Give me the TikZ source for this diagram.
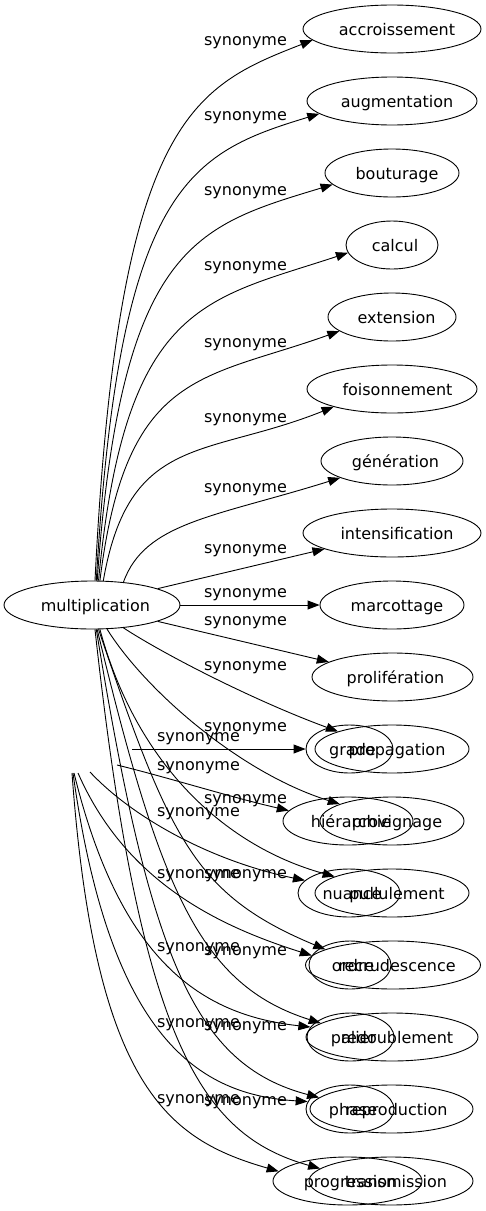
\documentclass[tikz,border=0pt]{standalone}
\usepackage{fontspec}
\setmainfont{DejaVu Sans}
\usetikzlibrary{shapes.geometric,arrows.meta}
\newcommand\shtxt[2]{\makebox[0pt]{\hspace*{#1}#2}}
\begin{document}
\begin{tikzpicture}[x=1pt,y=-1pt,
  every node/.style={font=\fontsize{16}{19}\selectfont},
  nd/.style={draw, ellipse, line width=0.9pt, minimum height=48pt, inner sep=0pt, text height=12pt, text depth=0pt},
  syn/.style={anchor=base, inner sep=0pt},
  edge/.style={line width=0.9pt, -{Triangle[length=12pt,width=9pt]}},
]
\useasboundingbox (0,0) rectangle (486,1211);
% main graph nodes
\node[nd, minimum width=176pt] (m) at (92,605) {\shtxt{7pt}{multiplication}};
\node[nd, minimum width=178pt] (acc) at (392,29) {\shtxt{10pt}{accroissement}};
\node[nd, minimum width=170pt] (aug) at (392,101) {\shtxt{10pt}{augmentation}};
\node[nd, minimum width=134pt] (bout) at (392,173) {\shtxt{10pt}{bouturage}};
\node[nd, minimum width=92pt] (calc) at (392,245) {\shtxt{6pt}{calcul}};
\node[nd, minimum width=128pt] (ext) at (392,317) {\shtxt{9pt}{extension}};
\node[nd, minimum width=170pt] (fois) at (392,389) {\shtxt{11pt}{foisonnement}};
\node[nd, minimum width=142pt] (gen) at (392,461) {\shtxt{7pt}{génération}};
\node[nd, minimum width=178pt] (int) at (392,533) {\shtxt{10pt}{intensification}};
\node[nd, minimum width=144pt] (marc) at (392,605) {\shtxt{10pt}{marcottage}};
\node[nd, minimum width=161pt] (prol) at (392.5,677) {\shtxt{6pt}{prolifération}};
\node[nd, minimum width=154pt] (prop) at (392,749) {\shtxt{10pt}{propagation}};
\node[nd, minimum width=144pt] (prov) at (392,821) {\shtxt{10pt}{provignage}};
\node[nd, minimum width=154pt] (pull) at (392,893) {\shtxt{10pt}{pullulement}};
\node[nd, minimum width=175pt] (recr) at (393,965) {\shtxt{8pt}{recrudescence}};
\node[nd, minimum width=172pt] (redoub) at (392,1037) {\shtxt{10pt}{redoublement}};
\node[nd, minimum width=163pt] (repro) at (391.5,1109) {\shtxt{10pt}{reproduction}};
\node[nd, minimum width=164pt] (trans) at (391,1181) {\shtxt{10pt}{transmission}};
% second graph nodes
\node[nd, minimum width=87pt] (grade) at (349.5,749) {\shtxt{6pt}{grade}};
\node[nd, minimum width=130pt] (hier) at (348,821) {\shtxt{6pt}{hiérarchie}};
\node[nd, minimum width=102pt] (nuance) at (349,893) {\shtxt{6pt}{nuance}};
\node[nd, minimum width=82pt] (ordre) at (350,965) {\shtxt{6pt}{ordre}};
\node[nd, minimum width=87pt] (palier) at (350.5,1037) {\shtxt{6pt}{palier}};
\node[nd, minimum width=88pt] (phase) at (350,1109) {\shtxt{6pt}{phase}};
\node[nd, minimum width=149pt] (prog) at (347.5,1181) {\shtxt{6pt}{progression}};
% main edges
\draw[edge] (m.83) .. controls (118,120) and (192,87) .. (acc.188);
\draw[edge] (m.80) .. controls (119,185) and (190,153) .. (aug.190.6);
\draw[edge] (m.78) .. controls (121,244) and (196,226) .. (bout.191);
\draw[edge] (m.75) .. controls (125,302) and (205,300) .. (calc.190);
\draw[edge] (m.72) .. controls (126,369) and (203,380) .. (ext.195);
\draw[edge] (m.65) .. controls (129,433) and (206,458) .. (fois.197);
\draw[edge] (m.36) .. controls (145,522) and (215,517) .. (gen.198);
\draw[edge] (m.14) -- (int);
\draw[edge] (m) -- (marc);
\draw[edge] (m.-14) -- (prol);
\draw[edge] (m.-36) .. controls (165,655) and (255,701) .. (prop.162);
\draw[edge] (m.-58) .. controls (145,690) and (240,773) .. (prov.162);
\draw[edge] (m.-72) .. controls (135,760) and (221,845) .. (pull.164.5);
\draw[edge] (m.-75) .. controls (170,840) and (195,895) .. (recr.167);
\draw[edge] (m.-78) .. controls (160,890) and (200,985) .. (redoub.169);
\draw[edge] (m.-80) .. controls (150,960) and (195,1065) .. (repro.171);
\draw[edge] (m.-83) .. controls (140,1040) and (200,1135) .. (trans.170);
% second graph edges (source not drawn)
\coordinate (s1) at (132,749);
\coordinate (s2) at (117,765);
\coordinate (s3) at (90,772);
\coordinate (s4) at (78,773);
\coordinate (s5) at (74,773);
\coordinate (s6) at (73,773);
\coordinate (s7) at (72,773);
\draw[edge] (s1) -- (grade);
\draw[edge] (s2) .. controls (170,778) and (230,797) .. (hier.170);
\draw[edge] (s3) .. controls (135,820) and (215,862) .. (nuance.164.5);
\draw[edge] (s4) .. controls (125,880) and (215,925) .. (ordre.166);
\draw[edge] (s5) .. controls (120,960) and (200,1015) .. (palier.166.6);
\draw[edge] (s6) .. controls (110,1040) and (200,1095) .. (phase.170.5);
\draw[edge] (s7) .. controls (95,1090) and (170,1140) .. (prog.172);
% labels
\foreach \yy [count=\i] in {45.5,120,195,270,347,422.5,492.5,553.5,597,625,670.5,731.5,803,878,955,1030.5,1105}
  \node[syn] (la\i) at (245.5,\yy) {synonyme};
\foreach \yy [count=\i] in {741,770,816,878,951,1027.5,1103}
  \node[syn] (lb\i) at (198.5,\yy) {synonyme};
\end{tikzpicture}
\end{document}
